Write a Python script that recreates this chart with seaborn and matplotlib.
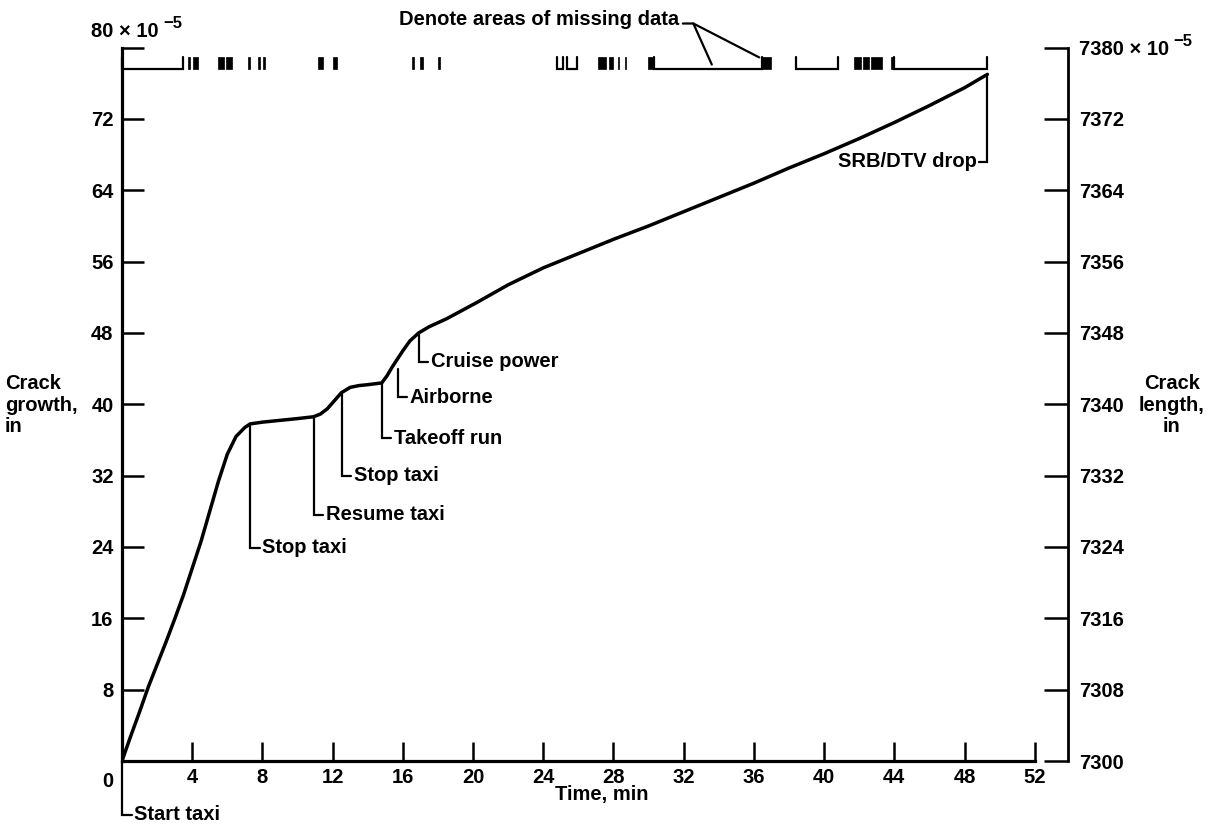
import matplotlib
matplotlib.use("Agg")
import matplotlib.pyplot as plt
import seaborn as sns
import pandas as pd
from matplotlib.transforms import ScaledTranslation

# ---------------- data ----------------
time_min = [0, 0.5, 1.0, 1.5, 2.0, 2.5, 3.0, 3.5, 4.0, 4.5, 5.0, 5.5, 6.0, 6.5,
            7.0, 7.3, 8.0, 9.0, 10.0, 10.9, 11.3, 11.7, 12.1, 12.5, 13.0, 13.5,
            14.0, 14.8, 15.1, 15.4, 15.7, 16.0, 16.4, 16.9, 17.5, 18.5, 20.2,
            22.0, 24.0, 26.0, 28.0, 30.0, 32.0, 34.0, 36.0, 38.0, 40.0, 42.0,
            44.0, 46.0, 48.0, 49.3]
crack_growth = [0, 2.8, 5.5, 8.3, 10.8, 13.3, 15.9, 18.6, 21.6, 24.6, 28.0,
                31.4, 34.4, 36.4, 37.4, 37.8, 38.0, 38.2, 38.4, 38.6, 38.9,
                39.5, 40.4, 41.3, 41.9, 42.1, 42.2, 42.4, 43.2, 44.2, 45.1,
                46.0, 47.1, 48.0, 48.7, 49.6, 51.4, 53.4, 55.3, 56.9, 58.5,
                60.0, 61.6, 63.2, 64.8, 66.5, 68.1, 69.8, 71.6, 73.5, 75.5, 77.0]

x_ticks = [4, 8, 12, 16, 20, 24, 28, 32, 36, 40, 44, 48, 52]
y_ticks_left = [0, 8, 16, 24, 32, 40, 48, 56, 64, 72, 80]
y_ticks_right = [7300, 7308, 7316, 7324, 7332, 7340, 7348, 7356, 7364, 7372, 7380]
scale_exponent = "−5"

event_names = ["Start taxi", "Stop taxi", "Resume taxi", "Stop taxi",
               "Takeoff run", "Airborne", "Cruise power", "SRB/DTV drop"]
event_time = [0.0, 7.29, 10.93, 12.52, 14.8, 15.7, 16.9, 49.3]
event_value = [0.0, 37.8, 38.5, 41.2, 42.3, 44.0, 48.0, 77.0]
event_label_y = [-6.0, 23.9, 27.6, 32.0, 36.2, 40.8, 44.8, 67.2]

# missing-data blocks (start, end, minutes)
missing_start = [3.76, 4.04, 5.46, 5.92, 7.17, 7.74, 8.02, 11.16, 12.01, 16.50,
                 16.96, 17.98, 27.09, 27.77, 28.23, 28.63, 29.99, 36.48, 41.72,
                 42.20, 42.65, 43.82]
missing_end = [3.86, 4.33, 5.81, 6.26, 7.27, 7.86, 8.14, 11.44, 12.24, 16.62,
               17.13, 18.10, 27.60, 27.95, 28.33, 28.73, 30.28, 36.99, 42.10,
               42.55, 43.31, 43.92]
# data-present brackets (start, end, minutes)
bracket_start = [0.0, 24.76, 25.38, 30.28, 38.42, 43.99]
bracket_end = [3.47, 25.10, 25.90, 36.48, 40.81, 49.29]

# ---------------- style ----------------
sns.set_theme(style="white")
plt.rcParams["font.family"] = ["Liberation Sans", "DejaVu Sans"]
plt.rcParams["font.weight"] = "bold"
plt.rcParams["text.color"] = "black"
plt.rcParams["axes.labelcolor"] = "black"
plt.rcParams["xtick.color"] = "black"
plt.rcParams["ytick.color"] = "black"
FS = 14.5
SUP_FS = 12
DPI = 100

fig = plt.figure(figsize=(12.22, 8.32), dpi=DPI)
ax = fig.add_axes([0.0998, 0.0853, 0.747, 0.8575])

df = pd.DataFrame({"Time, min": time_min, "Crack growth": crack_growth})
sns.lineplot(data=df, x="Time, min", y="Crack growth", ax=ax, color="black",
             lw=2.5, sort=True)

ax.set_xlim(0, 52)
ax.set_ylim(0, 80)
ax.grid(False)
for s in ["top", "right"]:
    ax.spines[s].set_visible(False)
for s in ["left", "bottom"]:
    ax.spines[s].set_linewidth(2.3)
    ax.spines[s].set_color("black")

ax.set_xticks(x_ticks)
ax.set_xticklabels([str(v) for v in x_ticks])
ax.set_yticks(y_ticks_left)
ax.set_yticklabels([str(v) if v != 80 else "" for v in y_ticks_left])
ax.tick_params(axis="x", direction="in", length=14, width=1.8, pad=5,
               labelsize=FS, colors="black", bottom=True)
ax.tick_params(axis="y", direction="in", length=16, width=1.8, pad=6,
               labelsize=FS, colors="black", left=True)
for lab in ax.get_xticklabels() + ax.get_yticklabels():
    lab.set_fontweight("bold")
# origin "0" label sits on the x tick-label row
zero_lab = ax.get_yticklabels()[0]
zero_lab.set_transform(zero_lab.get_transform() +
                       ScaledTranslation(0, -18 / DPI, fig.dpi_scale_trans))

top_lab = ax.text(-1.75, 81.15, "80 × 10", ha="left", va="baseline",
                  fontsize=FS, fontweight="bold", clip_on=False)

ax.set_xlabel("Time, min", fontsize=FS, fontweight="bold")
ax.xaxis.set_label_coords(0.526, -0.034)
ax.set_ylabel("Crack\ngrowth,\nin", rotation=0, fontsize=FS, fontweight="bold",
              ha="left", va="center", multialignment="left", linespacing=1.15)
ax.yaxis.set_label_coords(-0.128, 0.499)

# ---------------- right axis ----------------
tw = ax.twinx()
tw.set_ylim(7300, 7380)
tw.grid(False)
for s in ["top", "left", "bottom"]:
    tw.spines[s].set_visible(False)
tw.spines["right"].set_position(("axes", 1.036))
tw.spines["right"].set_linewidth(2.0)
tw.spines["right"].set_color("black")
tw.set_yticks(y_ticks_right)
tw.set_yticklabels([str(v) if v != 7380 else "7380 × 10" for v in y_ticks_right])
tw.tick_params(axis="y", direction="in", length=17, width=1.8, pad=8,
               labelsize=FS, colors="black", right=True)
for lab in tw.get_yticklabels():
    lab.set_fontweight("bold")
tw.set_ylabel("Crack\nlength,\nin", rotation=0, fontsize=FS, fontweight="bold",
              ha="center", va="center", multialignment="center", linespacing=1.15)
tw.yaxis.set_label_coords(1.150, 0.499)

# ---------------- event annotations ----------------
for name, t, v, ly in zip(event_names, event_time, event_value, event_label_y):
    if name == "SRB/DTV drop":
        hx, tx, ha = t - 0.45, t - 0.6, "right"
    else:
        hx, tx, ha = t + 0.55, t + 0.7, "left"
    ax.plot([t, t, hx], [v, ly, ly], color="black", lw=1.6, clip_on=False,
            solid_joinstyle="miter")
    ax.text(tx, ly, name, ha=ha, va="center", fontsize=FS, fontweight="bold",
            clip_on=False)

# ---------------- missing-data strip ----------------
base, top = 77.6, 78.9
ax.broken_barh([(s, e - s) for s, e in zip(missing_start, missing_end)],
               (base, top - base), facecolors="black", edgecolors="black",
               linewidth=0.5, clip_on=False)
for s, e in zip(bracket_start, bracket_end):
    ax.plot([s, s, e, e], [top, base, base, top], color="black", lw=1.6,
            clip_on=False, solid_joinstyle="miter")

ax.text(31.76, 83.1, "Denote areas of missing data", ha="right", va="center",
        fontsize=FS, fontweight="bold", clip_on=False)
ax.plot([31.95, 32.55, 33.6], [82.7, 82.7, 78.1], color="black", lw=1.6,
        clip_on=False)
ax.plot([32.55, 36.3], [82.7, 78.9], color="black", lw=1.6, clip_on=False)

# ---------------- enlarged superscripts "× 10^-5" ----------------
fig.canvas.draw()
renderer = fig.canvas.get_renderer()
fs_px = FS * DPI / 72.0
W, H = fig.bbox.width, fig.bbox.height

bb = top_lab.get_window_extent(renderer)
base_y = ax.transData.transform((0, 81.15))[1]
fig.text((bb.x1 + 4) / W, (base_y + 9) / H, scale_exponent, fontsize=SUP_FS,
         fontweight="bold", ha="left", va="baseline")

rlab = [l for l in tw.get_yticklabels() if l.get_text().startswith("7380")][0]
rb = rlab.get_window_extent(renderer)
r_base = rb.y0 + 0.212 * fs_px
fig.text((rb.x1 + 4) / W, (r_base + 9) / H, scale_exponent, fontsize=SUP_FS,
         fontweight="bold", ha="left", va="baseline")

fig.savefig("out.png", dpi=DPI, facecolor="white")
